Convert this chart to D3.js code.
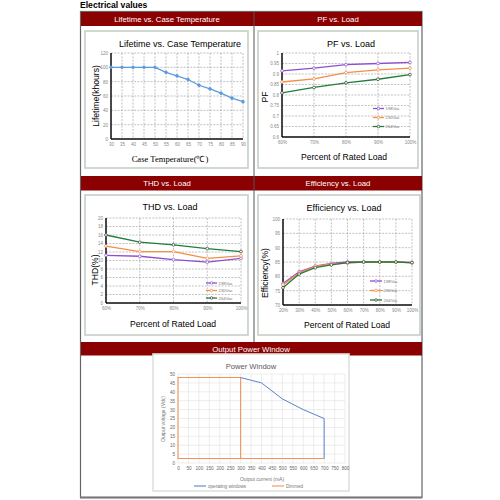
<!DOCTYPE html>
<html><head><meta charset="utf-8">
<script src="https://cdn.jsdelivr.net/npm/d3@7"></script>
<style>body{margin:0;background:#fff}svg{display:block}svg{font-family:"Liberation Sans",Arial,sans-serif}</style>
</head><body><svg id="c" width="500" height="500"></svg>
<script>
// ---------- data ----------
const lifeTemps = [30,35,40,45,50,55,60,65,70,75,80,85,90];
const lifeHours = [100,100,100,100,100,93,88,83,75,70,64,57,52];
const lifeYTicks = [0,20,40,60,80,100,120];

const seriesNames = ["198Vac","230Vac","264Vac"];

const pfLoads = ["60%","70%","80%","90%","100%"];
const pf198 = [0.915,0.928,0.945,0.950,0.955];
const pf230 = [0.862,0.877,0.907,0.920,0.928];
const pf264 = [0.810,0.836,0.858,0.875,0.897];
const pfYTicks = [0.6,0.65,0.7,0.75,0.8,0.85,0.9,0.95,1];

const thdLoads = ["60%","70%","80%","90%","100%"];
const thd198 = [11.2,11.0,10.2,9.6,10.5];
const thd230 = [13.4,12.1,12.1,10.5,11.1];
const thd264 = [16.0,14.3,13.7,12.8,12.1];
const thdYTicks = [0,2,4,6,8,10,12,14,16,18,20];

const effLoads = ["20%","30%","40%","50%","60%","70%","80%","90%","100%"];
const eff198 = [77.5,81.6,83.6,84.5,85.0,85.0,85.0,85.0,84.8];
const eff230 = [77.0,81.2,83.5,84.3,84.6,85.0,85.0,85.0,84.7];
const eff264 = [76.0,80.8,83.0,84.0,84.8,85.0,85.0,85.0,84.8];
const effYTicks = [70,75,80,85,90,95,100];

const pwOperI = [300,400,450,500,550,600,650,700,700];
const pwOperV = [48,45,40.5,36,33,30,27.5,25,2.5];
const pwDimI = [700,0,0,300,300];
const pwDimV = [2.5,2.5,48,48,2.5];
const pwXTicks = d3.range(0,801,50);
const pwYTicks = d3.range(0,51,5);
const pwLegend = ["operating windows","Dimmed"];

// ---------- styles ----------
const RED = "#8b0000";
const COLS = ["#8e4fcf","#f58d45","#1f7f3a"];
const svg = d3.select("#c");

svg.append("text").attr("x",80).attr("y",8).attr("font-size",8.6).attr("font-weight","bold").attr("fill","#000").text("Electrical values");

svg.append("rect").attr("x",80.5).attr("y",11.5).attr("width",341.5).attr("height",486).attr("fill","none").attr("stroke","#666").attr("stroke-width",1.2);
svg.append("line").attr("x1",80).attr("x2",422).attr("y1",497.5).attr("y2",497.5).attr("stroke","#777").attr("stroke-width",2);

function header(y, h){ svg.append("rect").attr("x",81).attr("y",y).attr("width",341).attr("height",h).attr("fill",RED); }
header(12,14); header(176,14.5); header(342,13.5);
svg.append("line").attr("x1",254).attr("x2",254).attr("y1",12).attr("y2",342).attr("stroke","#555").attr("stroke-width",1);
function htxt(x,y,t){ svg.append("text").attr("x",x).attr("y",y).attr("text-anchor","middle").attr("dominant-baseline","central").attr("font-size",7.8).attr("fill","#fff").text(t); }
htxt(167,19.5,"Lifetime vs. Case Temperature");
htxt(338,19.5,"PF vs. Load");
htxt(167,183.5,"THD vs. Load");
htxt(338,183.5,"Efficiency vs. Load");
htxt(251,349,"Output Power Window");

function box(x1,y1,x2,y2,c){ svg.append("rect").attr("x",x1).attr("y",y1).attr("width",x2-x1).attr("height",y2-y1).attr("fill","#fff").attr("stroke",c||"#c5cfc6").attr("stroke-width",1.6); }
box(85,31,248,168); box(258,31,418,168);
box(85,195,248,335); box(258,195,420,335);
box(153,354,349,491,"#dde3dd");

function txt(x,y,t,opt){
  opt=opt||{};
  const e=svg.append("text").attr("x",x).attr("y",y).attr("text-anchor",opt.anchor||"middle").attr("dominant-baseline","central")
    .attr("font-size",opt.size||8.5).attr("fill",opt.fill||"#000").text(t);
  if(opt.rot) e.attr("transform",`rotate(-90,${x},${y})`);
  if(opt.family) e.style("font-family",opt.family);
  return e;
}

function lineChart(cfg){
  const g = svg.append("g");
  const x = cfg.xScale, y = cfg.yScale;
  const [L,R] = x.range(); const [B,T] = y.range();
  g.selectAll(".hg").data(cfg.yTicks).join("line")
    .attr("x1",L).attr("x2",R).attr("y1",d=>y(d)).attr("y2",d=>y(d))
    .attr("stroke","#999").attr("stroke-width",0.6).attr("stroke-dasharray","2,1.3");
  g.selectAll(".vg").data(cfg.xTicks).join("line")
    .attr("x1",d=>x(d)).attr("x2",d=>x(d)).attr("y1",T).attr("y2",B)
    .attr("stroke","#999").attr("stroke-width",0.6).attr("stroke-dasharray","2,1.3");
  g.append("line").attr("x1",L).attr("x2",L).attr("y1",T).attr("y2",B).attr("stroke","#111").attr("stroke-width",1.5);
  g.append("line").attr("x1",L).attr("x2",R).attr("y1",B).attr("y2",B).attr("stroke","#111").attr("stroke-width",1.5);
  const yAx = d3.axisLeft(y).tickValues(cfg.yTicks).tickSize(0).tickPadding(3).tickFormat(cfg.yFmt||(d=>d));
  const ya = g.append("g").attr("transform",`translate(${L},0)`).call(yAx);
  ya.select(".domain").remove();
  ya.selectAll("text").attr("font-size",4.5).attr("fill","#888").style("font-family","Liberation Sans, Arial");
  const xAx = d3.axisBottom(x).tickValues(cfg.xTicks).tickSize(0).tickPadding(4).tickFormat(cfg.xFmt||(d=>d));
  const xa = g.append("g").attr("transform",`translate(0,${B})`).call(xAx);
  xa.select(".domain").remove();
  xa.selectAll("text").attr("font-size",4.5).attr("fill","#888").style("font-family","Liberation Sans, Arial");
  cfg.series.forEach((s,i)=>{
    const line = d3.line().x((d,j)=>x(cfg.xTicks[j])).y(d=>y(d));
    g.append("path").datum(s.values).attr("d",line).attr("fill","none").attr("stroke",s.color).attr("stroke-width",1.3);
    g.selectAll(".m"+i).data(s.values).join("circle")
      .attr("cx",(d,j)=>x(cfg.xTicks[j])).attr("cy",d=>y(d)).attr("r",1.4)
      .attr("fill",s.fill||"#fff").attr("stroke",s.mstroke||s.color).attr("stroke-width",0.7);
  });
  if(cfg.legend){
    const lg = cfg.legend;
    cfg.series.forEach((s,i)=>{
      const yy = lg.ys[i];
      g.append("line").attr("x1",lg.x).attr("x2",lg.x+lg.w).attr("y1",yy).attr("y2",yy).attr("stroke",s.color).attr("stroke-width",1.3);
      g.append("circle").attr("cx",lg.x+lg.w/2).attr("cy",yy).attr("r",1.3).attr("fill","#fff").attr("stroke",s.mstroke||s.color).attr("stroke-width",0.7);
      g.append("text").attr("x",lg.x+lg.w+1.5).attr("y",yy).attr("dominant-baseline","central").attr("font-size",4.3).attr("fill","#777").text(s.name);
    });
  }
}

lineChart({
  xScale: d3.scaleLinear().domain([30,90]).range([111,243]),
  yScale: d3.scaleLinear().domain([0,120]).range([139,53]),
  xTicks: lifeTemps, yTicks: lifeYTicks,
  series: [{values: lifeHours, color:"#5b9bdf", fill:"#5b9bdf"}]
});
txt(180,43.5,"Lifetime vs. Case Temperature",{size:9});
txt(95.5,96,"Lifetime(khours)",{rot:true,size:8.6});
txt(170,159,"Case Temperature(℃)",{size:8.6,family:"'Liberation Serif','Times New Roman',serif"});

lineChart({
  xScale: d3.scalePoint().domain(pfLoads).range([282,410]),
  yScale: d3.scaleLinear().domain([0.6,1]).range([137,53]),
  xTicks: pfLoads, yTicks: pfYTicks,
  series: [
    {name:seriesNames[0], values:pf198, color:COLS[0]},
    {name:seriesNames[1], values:pf230, color:COLS[1]},
    {name:seriesNames[2], values:pf264, color:COLS[2], mstroke:"#333"}
  ],
  legend:{x:373,w:11,ys:[108.5,117.5,126.5]}
});
txt(351,43.5,"PF vs. Load",{size:9});
txt(265,97,"PF",{rot:true,size:8.6});
txt(344,157,"Percent of Rated Load",{size:8.6});

lineChart({
  xScale: d3.scalePoint().domain(thdLoads).range([106,241]),
  yScale: d3.scaleLinear().domain([0,20]).range([303,218]),
  xTicks: thdLoads, yTicks: thdYTicks,
  series: [
    {name:seriesNames[0], values:thd198, color:COLS[0]},
    {name:seriesNames[1], values:thd230, color:COLS[1]},
    {name:seriesNames[2], values:thd264, color:COLS[2], mstroke:"#333"}
  ],
  legend:{x:206,w:11,ys:[283,290.5,298]}
});
txt(170,207,"THD vs. Load",{size:9});
txt(94.5,270,"THD(%)",{rot:true,size:8.6});
txt(173,324,"Percent of Rated Load",{size:8.6});

lineChart({
  xScale: d3.scalePoint().domain(effLoads).range([283,412]),
  yScale: d3.scaleLinear().domain([70,100]).range([305,219]),
  xTicks: effLoads, yTicks: effYTicks,
  series: [
    {name:seriesNames[0], values:eff198, color:COLS[0]},
    {name:seriesNames[1], values:eff230, color:COLS[1]},
    {name:seriesNames[2], values:eff264, color:COLS[2], mstroke:"#333"}
  ],
  legend:{x:370,w:12,ys:[281,290.5,300]}
});
txt(344,208,"Efficiency vs. Load",{size:9});
txt(265,273,"Efficiency(%)",{rot:true,size:8.6});
txt(347,325,"Percent of Rated Load",{size:8.6});

(function(){
  const x = d3.scaleLinear().domain([0,800]).range([178,345]);
  const y = d3.scaleLinear().domain([0,50]).range([463,374]);
  const g = svg.append("g");
  g.selectAll(".h").data(pwYTicks).join("line").attr("x1",x(0)).attr("x2",x(800)).attr("y1",d=>y(d)).attr("y2",d=>y(d)).attr("stroke","#e0e0e0").attr("stroke-width",0.6);
  g.selectAll(".v").data(pwXTicks).join("line").attr("x1",d=>x(d)).attr("x2",d=>x(d)).attr("y1",y(0)).attr("y2",y(50)).attr("stroke","#e0e0e0").attr("stroke-width",0.6);
  const ya = g.append("g").attr("transform",`translate(${x(0)},0)`).call(d3.axisLeft(y).tickValues(pwYTicks).tickSize(0).tickPadding(3));
  ya.select(".domain").remove();
  ya.selectAll("text").attr("font-size",4.6).attr("fill","#666").style("font-family","Liberation Sans, Arial");
  const xa = g.append("g").attr("transform",`translate(0,${y(0)})`).call(d3.axisBottom(x).tickValues(pwXTicks).tickSize(0).tickPadding(4));
  xa.select(".domain").remove();
  xa.selectAll("text").attr("font-size",4.6).attr("fill","#666").style("font-family","Liberation Sans, Arial");
  const ln = d3.line().x(d=>x(d[0])).y(d=>y(d[1]));
  g.append("path").datum(pwDimI.map((d,i)=>[d,pwDimV[i]])).attr("d",ln).attr("fill","none").attr("stroke","#f0935a").attr("stroke-width",1.1);
  g.append("path").datum(pwOperI.map((d,i)=>[d,pwOperV[i]])).attr("d",ln).attr("fill","none").attr("stroke","#5b82cf").attr("stroke-width",1);
  txt(251,366,"Power Window",{size:7.6,fill:"#595959"});
  txt(163,419,"Output  voltage (Vdc)",{rot:true,size:5,fill:"#777"});
  txt(262,479,"Output current (mA)",{size:5,fill:"#777"});
  const lx=[194,272], cols=["#5b82cf","#f0935a"];
  pwLegend.forEach((n,i)=>{
    g.append("line").attr("x1",lx[i]).attr("x2",lx[i]+12).attr("y1",486).attr("y2",486).attr("stroke",cols[i]).attr("stroke-width",1.1);
    g.append("text").attr("x",lx[i]+14).attr("y",486).attr("dominant-baseline","central").attr("font-size",4.6).attr("fill","#777").text(n);
  });
})();
</script></body></html>
